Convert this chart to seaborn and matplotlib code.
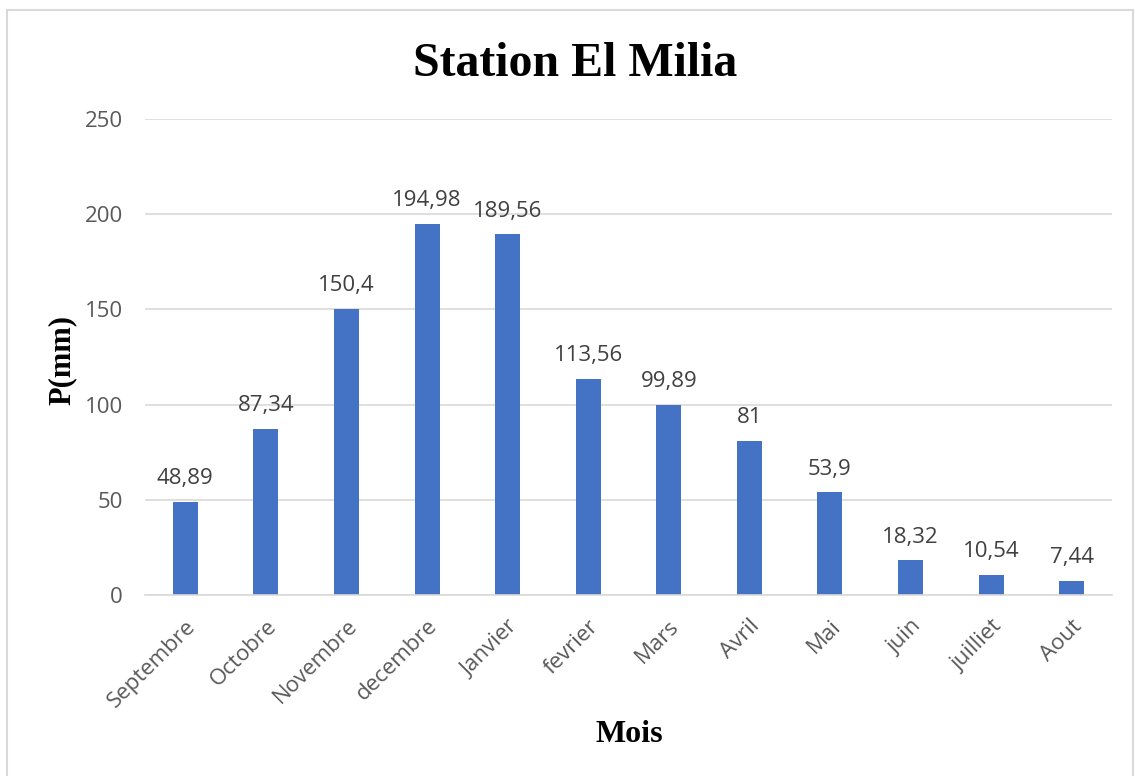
import matplotlib
matplotlib.use("Agg")
import matplotlib.pyplot as plt
import seaborn as sns
import pandas as pd
from matplotlib.patches import Rectangle

months = ["Septembre", "Octobre", "Novembre", "decembre", "Janvier", "fevrier",
          "Mars", "Avril", "Mai", "juin", "juilliet", "Aout"]
precip = [48.89, 87.34, 150.4, 194.98, 189.56, 113.56, 99.89, 81, 53.9, 18.32, 10.54, 7.44]
yticks = [0, 50, 100, 150, 200, 250]

df = pd.DataFrame({"Mois": months, "P": precip})

sns.set_theme(style="white")
plt.rcParams["font.family"] = ["Open Sans", "DejaVu Sans"]

fig = plt.figure(figsize=(11.35, 7.76), dpi=100)
ax = fig.add_axes([145/1135, 1-595/776, (1112-145)/1135, (595-119)/776])

sns.barplot(data=df, x="Mois", y="P", color="#4472C4", width=0.31,
            saturation=1, ax=ax, edgecolor="#4472C4", linewidth=0)

ax.set_ylim(0, 250)
ax.set_yticks(yticks)
ax.set_yticklabels([str(t) for t in yticks], fontsize=16, color="#595959")
ax.yaxis.grid(True, color="#D9D9D9", linewidth=1.2)
ax.set_axisbelow(True)
for s in ["top", "right", "left"]:
    ax.spines[s].set_visible(False)
ax.spines["bottom"].set_color("#D9D9D9")
ax.spines["bottom"].set_linewidth(1.2)
ax.tick_params(axis="y", length=0, pad=16)
ax.tick_params(axis="x", length=0, pad=15)
ax.set_xticks(range(len(months)))
ax.set_xticklabels(months, rotation=45, ha="right", rotation_mode="anchor",
                   fontsize=16, color="#595959")

labels = [f"{v:g}".replace(".", ",") for v in precip]
ax.bar_label(ax.containers[0], labels=labels, padding=9, fontsize=16, color="#404040")

ax.set_xlabel("")
ax.set_ylabel("")
fig.text(629/1135, 1 - 735/776, "Mois", fontsize=23, fontweight="bold",
         family="Liberation Serif", color="black", ha="center", va="center")
fig.text(62/1135, 1 - 360/776, "P(mm)", fontsize=22, fontweight="bold",
         family="Liberation Serif", color="black", ha="center", va="center",
         rotation=90)
fig.text(575/1135, 1 - 64/776, "Station El Milia", fontsize=34.5, fontweight="bold",
         family="Liberation Serif", color="black", ha="center", va="center")

fig.patches.append(Rectangle((7/1135, -0.05), (1133-7)/1135, 1.05 - 10/776,
                             transform=fig.transFigure, fill=False,
                             edgecolor="#D9D9D9", linewidth=1.5))

fig.savefig("out.png", dpi=100)
